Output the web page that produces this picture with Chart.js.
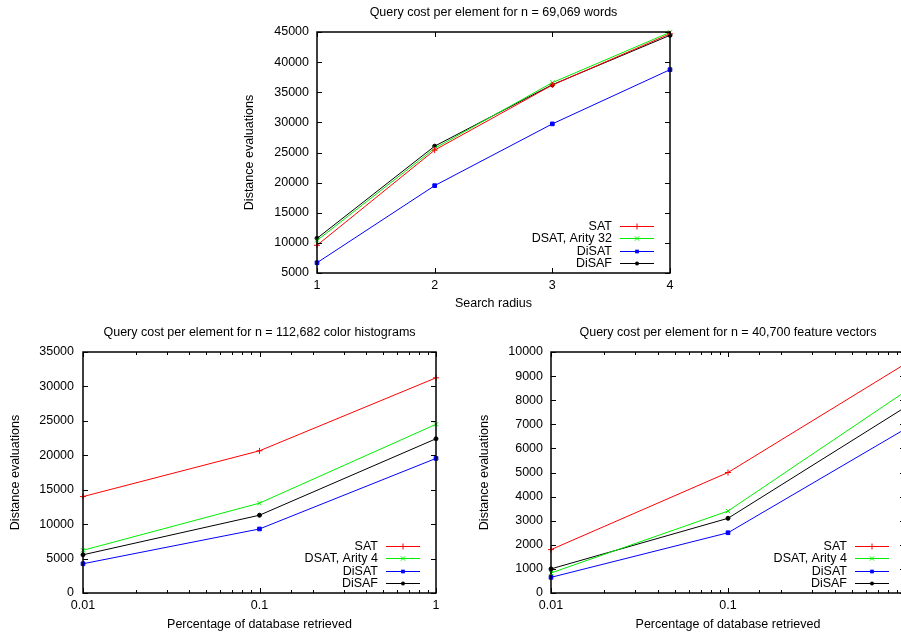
<!DOCTYPE html>
<html><head><meta charset="utf-8">
<script src="https://cdn.jsdelivr.net/npm/chart.js@4/dist/chart.umd.min.js"></script>
<style>
html,body{margin:0;padding:0;background:#fff;overflow:hidden;width:901px;height:635px}
#wrap{position:relative;width:901px;height:635px;overflow:hidden;background:#fff}
canvas{position:absolute;display:block}
</style></head><body>
<div id="wrap">
<canvas id="c1" width="460" height="320" style="left:230px;top:0px"></canvas>
<canvas id="c2" width="450" height="315" style="left:0px;top:320px"></canvas>
<canvas id="c3" width="460" height="315" style="left:460px;top:320px"></canvas>
</div>
<script>
// ---------- data ----------
const radius = [1, 2, 3, 4];
const wordsSAT   = [9600, 25400, 36200, 44700];
const wordsDSAT  = [10400, 25700, 36600, 44950];
const wordsDiSAT = [6700, 19500, 29750, 38750];
const wordsDiSAF = [10750, 26050, 36250, 44450];

const pct = [0.01, 0.1, 1];
const pctLabels = ['0.01', '0.1', '1'];
const histSAT   = [14000, 20650, 31250];
const histDSAT  = [6200, 13050, 24500];
const histDiSAT = [4250, 9300, 19550];
const histDiSAF = [5550, 11300, 22400];

const vecSAT   = [1800, 5000, 9500];
const vecDSAT  = [830, 3400, 8350];
const vecDiSAT = [650, 2500, 6800];
const vecDiSAF = [1000, 3100, 7700];

const namesWords = ['SAT', 'DSAT, Arity 32', 'DiSAT', 'DiSAF'];
const namesOther = ['SAT', 'DSAT, Arity 4', 'DiSAT', 'DiSAF'];

const yTicksWords = [5000, 10000, 15000, 20000, 25000, 30000, 35000, 40000, 45000];
const yTicksHist  = [0, 5000, 10000, 15000, 20000, 25000, 30000, 35000];
const yTicksVec   = [0, 1000, 2000, 3000, 4000, 5000, 6000, 7000, 8000, 9000, 10000];
const xTicksWords = [1, 2, 3, 4];

const titleWords = 'Query cost per element for n = 69,069 words';
const titleHist  = 'Query cost per element for n = 112,682 color histograms';
const titleVec   = 'Query cost per element for n = 40,700 feature vectors';
const yTitle = 'Distance evaluations';
const xTitleWords = 'Search radius';
const xTitleOther = 'Percentage of database retrieved';

// ---------- style ----------
const FONT_FAMILY = '"Liberation Sans", Arial, Helvetica, sans-serif';
const FONT_SIZE = 12.5;
const colors = ['#ff0000', '#00ee00', '#0000ff', '#000000'];
const styles = ['cross', 'crossRot', 'rect', 'circle'];
const radii = [3, 3, 2.6, 2];

Chart.defaults.font.family = FONT_FAMILY;
Chart.defaults.font.size = FONT_SIZE;
Chart.defaults.color = '#000';

function mkDatasets(names, xs, series) {
  return series.map((ys, i) => ({
    label: names[i],
    data: xs.map((x, j) => ({ x: x, y: ys[j] })),
    borderColor: colors[i],
    backgroundColor: colors[i],
    borderWidth: 1,
    pointStyle: styles[i],
    pointRadius: radii[i],
    pointBorderWidth: 1,
    pointBorderColor: colors[i],
    pointBackgroundColor: colors[i],
    tension: 0,
    clip: false
  }));
}

function drawMarker(ctx, style, x, y, r, color) {
  ctx.save();
  ctx.strokeStyle = color; ctx.fillStyle = color; ctx.lineWidth = 1;
  ctx.beginPath();
  if (style === 'cross') {
    ctx.moveTo(x - r, y); ctx.lineTo(x + r, y); ctx.moveTo(x, y - r); ctx.lineTo(x, y + r); ctx.stroke();
  } else if (style === 'crossRot') {
    const d = r * Math.SQRT1_2;
    ctx.moveTo(x - d, y - d); ctx.lineTo(x + d, y + d); ctx.moveTo(x - d, y + d); ctx.lineTo(x + d, y - d); ctx.stroke();
  } else if (style === 'rect') {
    const s = r * Math.SQRT2;
    ctx.fillRect(x - s / 2, y - s / 2, s, s);
  } else {
    ctx.arc(x, y, r, 0, Math.PI * 2); ctx.fill();
  }
  ctx.restore();
}

const gnuPlugin = {
  id: 'gnu',
  afterDraw(chart, args, opts) {
    const { ctx, chartArea: a, scales } = chart;
    const xs = scales.x, ys = scales.y;
    ctx.save();
    ctx.strokeStyle = '#000';
    ctx.lineWidth = 1;
    const seg = (x1, y1, x2, y2) => { ctx.beginPath(); ctx.moveTo(x1, y1); ctx.lineTo(x2, y2); ctx.stroke(); };
    ys.ticks.forEach(t => {
      const p = Math.round(ys.getPixelForValue(t.value)) + 0.5;
      seg(a.left, p, a.left + 5, p);
      seg(a.right, p, a.right - 5, p);
    });
    xs.ticks.forEach(t => {
      const major = opts.majorX.some(v => Math.abs(v - t.value) < 1e-9);
      const len = major ? 5 : 3;
      const p = Math.round(xs.getPixelForValue(t.value)) + 0.5;
      seg(p, a.bottom, p, a.bottom - len);
      seg(p, a.top, p, a.top + len);
    });
    ctx.lineWidth = 1.5;
    ctx.strokeRect(a.left, a.top, a.right - a.left, a.bottom - a.top);
    // title
    ctx.fillStyle = '#000';
    ctx.font = FONT_SIZE + 'px ' + FONT_FAMILY;
    ctx.textAlign = 'center';
    ctx.textBaseline = 'middle';
    ctx.fillText(opts.title, (a.left + a.right) / 2, 13);
    // legend
    const ds = chart.data.datasets;
    const n = ds.length;
    ds.forEach((d, i) => {
      const y = Math.round(a.bottom - 10 - (n - 1 - i) * 12.4) + 0.5;
      ctx.fillStyle = '#000';
      ctx.textAlign = 'right';
      ctx.fillText(d.label, a.right - 58, y);
      ctx.strokeStyle = d.borderColor;
      ctx.lineWidth = 1;
      seg(a.right - 50, y, a.right - 16, y);
      drawMarker(ctx, d.pointStyle, a.right - 33, y, d.pointRadius, d.borderColor);
    });
    ctx.restore();
  }
};

function makeChart(id, cfg) {
  const logX = cfg.logX;
  return new Chart(document.getElementById(id), {
    type: 'line',
    data: { datasets: mkDatasets(cfg.names, cfg.xs, cfg.series) },
    options: {
      responsive: false,
      animation: false,
      events: [],
      layout: { padding: { top: 32, right: cfg.padRight, bottom: 0, left: 0 } },
      plugins: {
        legend: { display: false },
        tooltip: { enabled: false },
        title: { display: false },
        gnu: { title: cfg.title, majorX: cfg.majorX }
      },
      scales: {
        x: {
          type: logX ? 'logarithmic' : 'linear',
          min: cfg.xMin, max: cfg.xMax,
          grid: { display: false, drawTicks: false },
          border: { display: false },
          afterBuildTicks: logX ? undefined : (s) => { s.ticks = cfg.majorX.map(v => ({ value: v })); },
          ticks: {
            padding: 5,
            autoSkip: false,
            maxRotation: 0,
            color: '#000',
            callback: (v) => {
              const i = cfg.majorX.findIndex(m => Math.abs(m - v) < 1e-9);
              return i >= 0 ? cfg.xLabels[i] : '';
            }
          },
          title: { display: true, text: cfg.xTitle, color: '#000', padding: { top: 0, bottom: cfg.xTitlePad } },
          afterFit: (s) => { s.height = cfg.xHeight; }
        },
        y: {
          type: 'linear',
          min: cfg.yTicks[0], max: cfg.yTicks[cfg.yTicks.length - 1],
          grid: { display: false, drawTicks: false },
          border: { display: false },
          afterBuildTicks: (s) => { s.ticks = cfg.yTicks.map(v => ({ value: v })); },
          ticks: { padding: cfg.yTickPad, color: '#000', callback: (v) => String(v) },
          title: { display: true, text: yTitle, color: '#000', padding: { top: cfg.yTitlePad, bottom: 0 } },
          afterFit: (s) => { s.width = cfg.yWidth; }
        }
      }
    },
    plugins: [gnuPlugin]
  });
}

makeChart('c1', {
  names: namesWords, xs: radius,
  series: [wordsSAT, wordsDSAT, wordsDiSAT, wordsDiSAF],
  logX: false, xMin: 1, xMax: 4, majorX: xTicksWords, xLabels: xTicksWords.map(String),
  yTicks: yTicksWords, title: titleWords, xTitle: xTitleWords,
  padRight: 20, yWidth: 87, xHeight: 47, yTickPad: 8, yTitlePad: 12.5, xTitlePad: 8.5
});
makeChart('c2', {
  names: namesOther, xs: pct,
  series: [histSAT, histDSAT, histDiSAT, histDiSAF],
  logX: true, xMin: 0.01, xMax: 1, majorX: pct, xLabels: pctLabels,
  yTicks: yTicksHist, title: titleHist, xTitle: xTitleOther,
  padRight: 14, yWidth: 83, xHeight: 42, yTickPad: 9, yTitlePad: 8.5, xTitlePad: 2.5
});
makeChart('c3', {
  names: namesOther, xs: pct,
  series: [vecSAT, vecDSAT, vecDiSAT, vecDiSAF],
  logX: true, xMin: 0.01, xMax: 1, majorX: pct, xLabels: pctLabels,
  yTicks: yTicksVec, title: titleVec, xTitle: xTitleOther,
  padRight: 15, yWidth: 91, xHeight: 42, yTickPad: 8, yTitlePad: 17.5, xTitlePad: 2.5
});
</script>
</body></html>
